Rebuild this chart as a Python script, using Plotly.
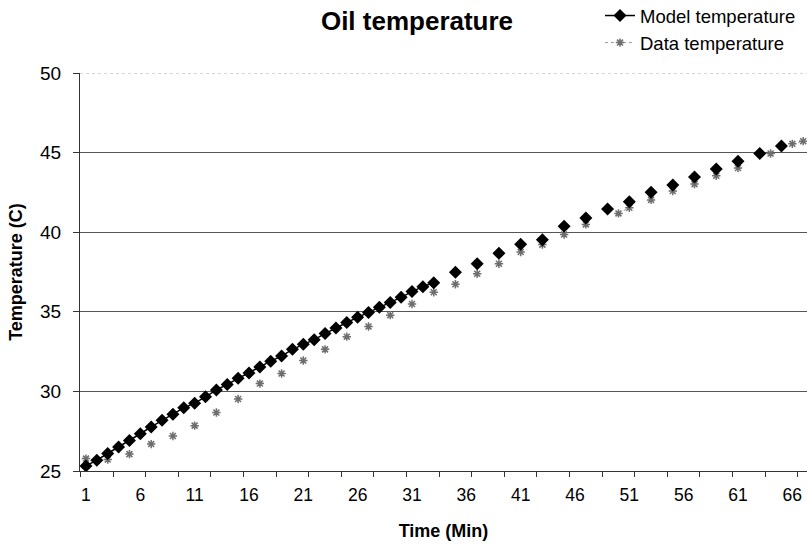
import plotly.graph_objects as go

categories = list(range(1, 68))

model_temp = {
    1: 25.32, 2: 25.68, 3: 26.10, 4: 26.50, 5: 26.92, 6: 27.34, 7: 27.77, 8: 28.19,
    9: 28.57, 10: 28.97, 11: 29.26, 12: 29.66, 13: 30.09, 14: 30.44, 15: 30.82,
    16: 31.16, 17: 31.54, 18: 31.90, 19: 32.22, 20: 32.64, 21: 32.96, 22: 33.25,
    23: 33.63, 24: 33.99, 25: 34.33, 26: 34.65, 27: 34.96, 28: 35.28, 29: 35.59,
    30: 35.91, 31: 36.27, 32: 36.58, 33: 36.82, 35: 37.48, 37: 38.02, 39: 38.67,
    41: 39.24, 43: 39.52, 45: 40.38, 47: 40.89, 49: 41.45, 51: 41.92, 53: 42.51,
    55: 42.97, 57: 43.46, 59: 43.97, 61: 44.45, 63: 44.94, 65: 45.41,
}

data_temp = {
    1: 25.78, 3: 25.72, 5: 26.06, 7: 26.69, 9: 27.20, 11: 27.85, 13: 28.67,
    15: 29.52, 17: 30.49, 19: 31.12, 21: 31.94, 23: 32.64, 25: 33.44, 27: 34.08,
    29: 34.79, 31: 35.49, 33: 36.23, 35: 36.73, 37: 37.39, 39: 38.02, 41: 38.76,
    43: 39.22, 45: 39.85, 47: 40.49, 50: 41.18, 51: 41.54, 53: 42.03, 55: 42.59,
    57: 43.02, 59: 43.54, 61: 44.03, 64: 44.94, 66: 45.55, 67: 45.72,
}

x_tick_labels = [1, 6, 11, 16, 21, 26, 31, 36, 41, 46, 51, 56, 61, 66]
y_tick_labels = [25, 30, 35, 40, 45, 50]

model_y = [model_temp.get(c) for c in categories]
data_y = [data_temp.get(c) for c in categories]

FONT = "Liberation Sans, Arial, sans-serif"
W, H = 807, 544
T, B = 73, 73
PLOT_H = H - T - B

fig = go.Figure()
fig.add_trace(go.Scatter(
    x=categories, y=data_y, name="Data temperature", mode="lines+markers",
    connectgaps=False,
    line=dict(color="#9a9a9a", width=1, dash="dot"),
    marker=dict(symbol="asterisk-open", size=7, color="#6e6e6e",
                line=dict(color="#6e6e6e", width=1.5)),
    cliponaxis=False,
))
fig.add_trace(go.Scatter(
    x=categories, y=model_y, name="Model temperature", mode="lines+markers",
    connectgaps=False,
    line=dict(color="black", width=1.5),
    marker=dict(symbol="diamond", size=10, color="black"),
))

fig.update_layout(
    width=W, height=H,
    margin=dict(l=80, r=0, t=T, b=B, autoexpand=False),
    paper_bgcolor="white", plot_bgcolor="white",
    font=dict(family=FONT, color="black"),
    title=dict(text="<b>Oil temperature</b>", x=417 / W, xref="container",
               xanchor="center", y=1 - 21 / H, yref="container",
               yanchor="middle", font=dict(size=26)),
    showlegend=True,
    legend=dict(x=600 / W, xref="container", xanchor="left",
                y=1 + (T + 3) / PLOT_H, yref="paper", yanchor="top",
                font=dict(size=18.5), traceorder="reversed",
                bgcolor="rgba(0,0,0,0)", itemwidth=30, tracegroupgap=0,
                borderwidth=0),
    xaxis=dict(
        range=[0.45, 67.35], tickmode="array", tickvals=x_tick_labels,
        ticktext=[str(v) for v in x_tick_labels], ticks="",
        showgrid=False, zeroline=False, showline=True, linecolor="#333",
        linewidth=1, tickfont=dict(size=17.5), ticklabelstandoff=8,
        ticklabeloverflow="allow", automargin=False,
        minor=dict(tick0=0.5, dtick=3, ticks="outside", ticklen=5,
                   tickcolor="#333", showgrid=False),
        title=dict(text="<b>Time (Min)</b>", font=dict(size=18), standoff=20),
    ),
    yaxis=dict(
        range=[25, 50], tickmode="array", tickvals=y_tick_labels,
        ticks="outside", ticklen=6, tickcolor="#333",
        showgrid=True, gridcolor="#555", gridwidth=1,
        zeroline=False, showline=True, linecolor="#333", linewidth=1,
        tickfont=dict(size=19), ticklabelstandoff=8, automargin=False,
        title=dict(text="<b>Temperature (C)</b>", font=dict(size=18), standoff=12),
    ),
)

fig.add_hline(y=50, line=dict(color="white", width=2))
fig.add_hline(y=50, line=dict(color="#aaaaaa", width=1, dash="dot"))

fig.write_html(
    "out.html",
    config={"displayModeBar": False},
    post_script="document.body.style.margin='0';document.body.style.overflow='hidden';",
)
